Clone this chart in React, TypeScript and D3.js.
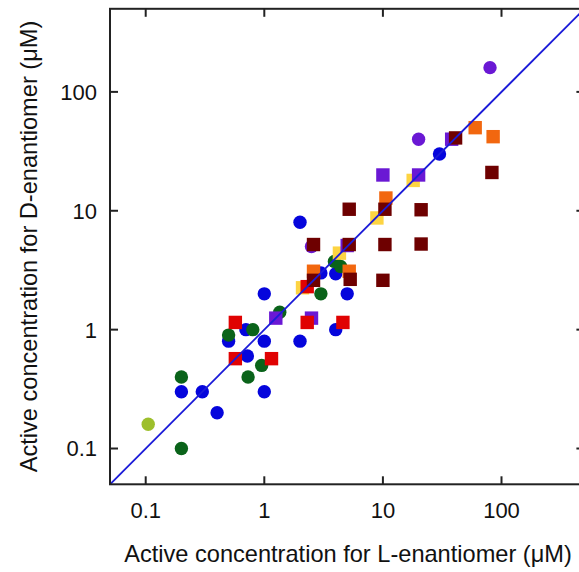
import React from "react";
import * as d3 from "d3";

type P = [number, number];

const blueCircles: P[] = [
  [0.2, 0.3], [0.3, 0.3], [0.4, 0.2], [1, 0.3], [0.5, 0.8], [0.7, 1.0], [0.72, 0.6],
  [1, 0.8], [1, 2], [2, 0.8], [2, 8], [3, 3], [4, 2.95], [4, 1], [5, 2], [30, 30],
];
const darkGreenCircles: P[] = [
  [0.2, 0.1], [0.2, 0.4], [0.5, 0.9], [0.8, 1.0], [0.73, 0.4], [0.95, 0.5],
  [1.35, 1.4], [3, 2], [3.9, 3.75], [4.4, 3.4],
];
const lightGreenCircles: P[] = [[0.105, 0.16]];
const purpleCircles: P[] = [[2.5, 5], [20, 40], [80, 160]];
const purpleSquares: P[] = [[1.25, 1.25], [2.5, 1.25], [5, 5.1], [10, 20], [20, 20], [38, 40]];
const redSquares: P[] = [[0.57, 1.15], [0.57, 0.57], [1.15, 0.57], [2.3, 2.3], [2.3, 1.15], [4.6, 1.15]];
const orangeSquares: P[] = [[2.6, 3.1], [5.2, 3.1], [10.6, 12.8], [60, 50], [85, 42]];
const yellowSquares: P[] = [[2.1, 2.25], [4.3, 4.4], [8.9, 8.7], [18, 18]];
const darkRedSquares: P[] = [
  [2.6, 5.2], [2.6, 2.6], [5.2, 10.3], [5.2, 5.2], [5.3, 2.65], [10.4, 10.3],
  [10.4, 5.2], [10, 2.6], [21, 10.2], [21, 5.25], [41, 41], [83, 21],
];

const tickValues = [0.1, 1, 10, 100];
const tickLabels = ["0.1", "1", "10", "100"];
const domain: [number, number] = [0.05, 500];

const W = 579;
const H = 572;
const left = 110;
const right = 584.4;
const top = 8.8;
const bottom = 484.3;

export default function App() {
  const x = d3.scaleLog().domain(domain).range([left, right]);
  const y = d3.scaleLog().domain(domain).range([bottom, top]);
  const r = 6.7;
  const s = 13.4;
  const font = "'Liberation Sans', Arial, sans-serif";
  const axisColor = "#222";
  const tl = 8;

  const circles = (pts: P[], color: string, key: string) =>
    pts.map((p, i) => <circle key={key + i} cx={x(p[0])} cy={y(p[1])} r={r} fill={color} />);
  const squares = (pts: P[], color: string, key: string) =>
    pts.map((p, i) => (
      <rect key={key + i} x={x(p[0]) - s / 2} y={y(p[1]) - s / 2} width={s} height={s} fill={color} />
    ));

  const line = d3.line<number>().x((d) => x(d)).y((d) => y(d));

  return (
    <svg width={W} height={H} style={{ position: "absolute", left: 0, top: 0 }}>
      <rect x={0} y={0} width={W} height={H} fill="#fff" />
      {circles(blueCircles, "#0505dc", "b")}
      {circles(darkGreenCircles, "#0a631a", "g")}
      {circles(lightGreenCircles, "#9dbf2c", "lg")}
      {circles(purpleCircles, "#6a18d4", "pc")}
      {squares(yellowSquares, "#fdd442", "y")}
      {squares(purpleSquares, "#6a18d4", "ps")}
      {squares(redSquares, "#e00202", "r")}
      {squares(orangeSquares, "#f2670f", "o")}
      {squares(darkRedSquares, "#6e0000", "dr")}
      <path d={line(domain) || ""} stroke="#1a1ad8" strokeWidth={1.8} fill="none" />
      {/* frame */}
      <rect x={left} y={top} width={right - left} height={bottom - top} fill="none" stroke={axisColor} strokeWidth={2} />
      {tickValues.map((v, i) => (
        <g key={"t" + i}>
          <line x1={x(v)} x2={x(v)} y1={bottom} y2={bottom - tl} stroke={axisColor} strokeWidth={2} />
          <line x1={x(v)} x2={x(v)} y1={top} y2={top + tl} stroke={axisColor} strokeWidth={2} />
          <line x1={left} x2={left + tl} y1={y(v)} y2={y(v)} stroke={axisColor} strokeWidth={2} />
          <line x1={right} x2={right - tl} y1={y(v)} y2={y(v)} stroke={axisColor} strokeWidth={2} />
          <text x={x(v)} y={518} textAnchor="middle" fontFamily={font} fontSize={22} fill="#111">
            {tickLabels[i]}
          </text>
          <text x={97} y={y(v)} dy="0.36em" textAnchor="end" fontFamily={font} fontSize={22} fill="#111">
            {tickLabels[i]}
          </text>
        </g>
      ))}
      <text x={348} y={562} textAnchor="middle" fontFamily={font} fontSize={23.6} fill="#111">
        Active concentration for L-enantiomer (μM)
      </text>
      <text
        transform={`translate(37,246.5) rotate(-90)`}
        textAnchor="middle"
        fontFamily={font}
        fontSize={23.6}
        fill="#111"
      >
        Active concentration for D-enantiomer (μM)
      </text>
    </svg>
  );
}
